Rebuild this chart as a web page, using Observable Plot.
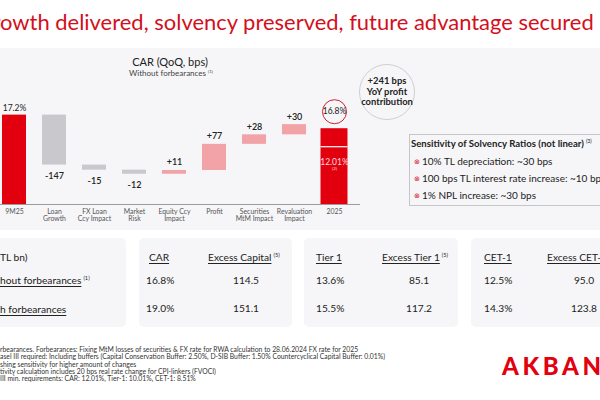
<!DOCTYPE html>
<html>
<head>
<meta charset="utf-8">
<script src="https://cdn.jsdelivr.net/npm/d3@7"></script>
<script src="https://cdn.jsdelivr.net/npm/@observablehq/plot@0.6"></script>
<style>
  html, body { margin: 0; padding: 0; width: 600px; height: 400px; overflow: hidden; background: #fff;
    font-family: "Lato", "Noto Sans", sans-serif; color: #222; }
  .abs { position: absolute; white-space: nowrap; }
  #headline { top: 8px; left: 0; font-size: 21.5px; color: #d3101c; }
  #panel { left: 0; top: 48px; width: 600px; height: 182px; background: #f6f6f8; }
  #chartTitle { top: 55px; left: 170px; transform: translateX(-50%); font-size: 11px; color: #222; }
  #chartSub { top: 68px; left: 171px; transform: translateX(-50%); font-size: 8px; color: #444; }
  sup { font-size: 0.55em; vertical-align: 0.7em; margin-left: 2px; }
  #chart { left: -30px; top: 100px; }
  #profitBubble { left: 359px; top: 64px; width: 56px; height: 56px; border-radius: 50%;
    border: 1px solid #cfcfd2; box-sizing: border-box; display: flex; align-items: center; justify-content: center;
    text-align: center; font-size: 9.4px; font-weight: 700; line-height: 10.5px; color: #222; }
  #sens { left: 409px; top: 134px; width: 210px; height: 72px; border: 1px solid #c6c6c8; box-sizing: border-box; }
  #sens .t { position: absolute; left: 1px; top: 3px; font-size: 9.6px; font-weight: 700; color: #222; }
  #sens .b { position: absolute; left: 4px; font-size: 10px; color: #222; }
  #sens .b i { font-style: normal; color: #d5101d; font-size: 7px; margin-right: 2px; vertical-align: 1px; }
  .box { position: absolute; top: 238px; height: 89px; background: #f6f6f8; border-radius: 5px; }
  .cell { position: absolute; font-size: 10.2px; color: #222; white-space: nowrap; }
  .u { text-decoration: underline; text-underline-offset: 2px; text-decoration-thickness: 0.8px; }
  .c { transform: translateX(-50%); }
  .foot { position: absolute; font-size: 6.8px; color: #333; white-space: nowrap; }
  #logo { left: 502px; top: 351px; font-size: 24px; font-weight: 900; color: #e3000f; letter-spacing: 3.6px; }
</style>
</head>
<body>
<div id="headline" class="abs cut"><span class="hid">Gr</span>owth delivered, solvency preserved, future advantage secured</div>
<div id="panel" class="abs"></div>
<div id="chartTitle" class="abs">CAR (QoQ, bps)</div>
<div id="chartSub" class="abs">Without forbearances<sup>(1)</sup></div>
<div id="chart" class="abs"></div>
<div id="profitBubble" class="abs"><div id="bubbleText"></div></div>
<div id="sens" class="abs"></div>
<div id="tables"></div>
<div id="footnotes"></div>
<div id="logo" class="abs">AKBANK</div>

<script>
// ---- Waterfall: CAR bridge, 9M25 -> 2025 (bps) ----
const stages = ["9M25", "Loan Growth", "FX Loan Ccy Impact", "Market Risk", "Equity Ccy Impact",
  "Profit", "Securities MtM Impact", "Revaluation Impact", "2025"];
const stageTicks = ["9M25", "Loan\nGrowth", "FX Loan\nCcy Impact", "Market\nRisk", "Equity Ccy\nImpact",
  "Profit", "Securities\nMtM Impact", "Revaluation\nImpact", "2025"];
const carStart = 17.2;   // %
const carEnd = 16.8;     // %
const deltasBps = [-147, -15, -12, 11, 77, 28, 30];
const minRequirement = "12.01%";
const axisFloor = 1457;  // truncated axis starts here (bps)
const axisCeil = 1763;
const requirementSplit = 1627; // divider drawn inside the 2025 bar

// Bubble and sensitivity panel
const bubbleLines = ["+241 bps", "YoY profit", "contribution"];
const sensTitle = "Sensitivity of Solvency Ratios (not linear)";
const sensItems = ["10% TL depreciation: ~30 bps", "100 bps TL interest rate increase: ~10 bps", "1% NPL increase: ~30 bps"];

// Ratio tables (TL bn)
const rowLabels = ["Without forbearances", "With forbearances"];
const carVals = ["16.8%", "19.0%"];
const excessCapital = ["114.5", "151.1"];
const tier1Vals = ["13.6%", "15.5%"];
const excessTier1 = ["85.1", "117.2"];
const cet1Vals = ["12.5%", "14.3%"];
const excessCet1 = ["95.0", "123.8"];

const footnotes = [
  ["(1) Without fo", "rbearances. Forbearances: Fixing MtM losses of securities & FX rate for RWA calculation to 28.06.2024 FX rate for 2025"],
  ["(2) B", "asel III required: Including buffers (Capital Conservation Buffer: 2.50%, D-SIB Buffer: 1.50% Countercyclical Capital Buffer: 0.01%)"],
  ["(3) Dimini", "shing sensitivity for higher amount of changes"],
  ["(4) Sensi", "tivity calculation includes 20 bps real rate change for CPI-linkers (FVOCI)"],
  ["(5) Over Basel ", "III min. requirements: CAR: 12.01%, Tier-1: 10.01%, CET-1: 8.51%"]
];

// Build waterfall rows
const rows = [];
let running = carStart * 100;
rows.push({stage: stages[0], tick: stageTicks[0], y1: axisFloor, y2: running, kind: "total", label: carStart.toFixed(1) + "%"});
deltasBps.forEach((d, i) => {
  rows.push({stage: stages[i + 1], tick: stageTicks[i + 1], y1: running, y2: running + d,
    kind: d < 0 ? "neg" : "pos", label: (d > 0 ? "+" : "") + d, delta: d});
  running += d;
});
rows.push({stage: stages[8], tick: stageTicks[8], y1: axisFloor, y2: carEnd * 100, kind: "end", label: carEnd.toFixed(1) + "%"});

const fills = {total: "#e2000f", end: "#e2000f", neg: "#c9c9cd", pos: "#f2a3a7"};
const deltas = rows.filter(d => d.kind === "neg" || d.kind === "pos");
const endRow = rows.filter(d => d.kind === "end");

const chart = Plot.plot({
  width: 410, height: 135,
  marginLeft: 17, marginRight: 20, marginTop: 0, marginBottom: 31,
  x: {domain: stages, paddingInner: 0.404, paddingOuter: 0.3, axis: null},
  y: {domain: [axisFloor, axisCeil], axis: null},
  style: {background: "transparent", fontFamily: "Lato, 'Noto Sans', sans-serif", overflow: "visible"},
  marks: [
    Plot.rectY(rows.filter(d => d.kind === "total" || d.kind === "neg" || d.kind === "pos"),
      {x: "stage", y1: "y1", y2: "y2", fill: d => fills[d.kind]}),
    Plot.rectY(endRow, {x: "stage", y1: "y1", y2: "y2", fill: d => fills[d.kind], insetLeft: -1.5, insetRight: -1.5}),
    Plot.tickY(endRow.map(d => ({stage: d.stage, v: requirementSplit})),
      {x: "stage", y: "v", stroke: "#ffffff", strokeWidth: 1.2, insetLeft: -1.5, insetRight: -1.5}),
    Plot.ruleY([axisFloor], {stroke: "#9c9c9f", strokeWidth: 1}),
    // value labels
    Plot.text(rows.filter(d => d.kind === "total"), {x: "stage", y: "y2", text: "label", dy: -7, fontSize: 8.5, fill: "#222"}),
    Plot.text(deltas.filter(d => d.kind === "neg"), {x: "stage", y: "y2", text: "label", dy: 11, fontSize: 9, fontWeight: 600, fill: "#222"}),
    Plot.text(deltas.filter(d => d.kind === "pos"), {x: "stage", y: "y2", text: "label", dy: -8, fontSize: 9, fontWeight: 600, fill: "#222"}),
    Plot.dot(endRow, {x: "stage", y: "y2", r: 12, dy: -17, stroke: "#d3202b", strokeWidth: 1, fill: "none"}),
    Plot.text(endRow, {x: "stage", y: "y2", text: "label", dy: -17, fontSize: 8.5, fill: "#222"}),
    Plot.text(endRow.map(d => ({stage: d.stage, v: requirementSplit, t: minRequirement})),
      {x: "stage", y: "v", text: "t", dy: 16, fontSize: 8.5, fill: "#ffd9d9"}),
    Plot.text(endRow.map(d => ({stage: d.stage, v: requirementSplit, t: "(2)"})),
      {x: "stage", y: "v", text: "t", dy: 22, fontSize: 4.5, fill: "#ffd9d9"}),
    // category labels under the baseline
    Plot.text(rows, {x: "stage", y: axisFloor, text: "tick", lineAnchor: "top", dy: 5, fontSize: 6.9, lineHeight: 1.0, fill: "#555"})
  ]
});
document.getElementById("chart").appendChild(chart);

// Bubble
document.getElementById("bubbleText").innerHTML = bubbleLines.join("<br>");

// Sensitivity panel
const sens = document.getElementById("sens");
sens.innerHTML = `<div class="t">${sensTitle}<sup style="font-weight:400">(3)</sup></div>` +
  sensItems.map((s, i) => `<div class="b" style="top:${20 + i * 17}px"><i>⊗</i>${s}</div>`).join("");

// Tables
const tables = document.getElementById("tables");
function box(left, width) {
  const b = document.createElement("div");
  b.className = "box"; b.style.left = left + "px"; b.style.width = width + "px";
  tables.appendChild(b);
}
function cell(html, left, top, cls = "") {
  const c = document.createElement("div");
  c.className = "cell " + cls; c.style.left = left + "px"; c.style.top = top + "px";
  c.innerHTML = html; tables.appendChild(c);
  return c;
}
box(-10, 136); box(139, 153); box(304, 154); box(471, 160);
const headTop = 251, rowTops = [274, 302];
// row labels (their left edge runs off the page)
cell('<span class="hid">Solvency (</span>TL bn)', 0, headTop, "cut");
rowLabels.forEach((r, i) => {
  cell(`<span class="u"><span class="hid">Wit</span>${r.slice(3)}</span>${i === 0 ? '<sup>(1)</sup>' : ''}`, 0, rowTops[i] + (i === 0 ? 0 : 1), "cut");
});
cell('<span class="u">CAR</span>', 149, headTop);
cell('<span class="u">Excess Capital</span><sup>(5)</sup>', 208, headTop);
cell('<span class="u">Tier 1</span>', 316, headTop);
cell('<span class="u">Excess Tier 1</span><sup>(5)</sup>', 382, headTop);
cell('<span class="u">CET-1</span>', 484, headTop);
cell('<span class="u">Excess CET-1</span><sup>(5)</sup>', 547, headTop);
[0, 1].forEach(i => {
  cell(carVals[i], 146, rowTops[i]);
  cell(excessCapital[i], 246, rowTops[i], "c");
  cell(tier1Vals[i], 316, rowTops[i]);
  cell(excessTier1[i], 419, rowTops[i], "c");
  cell(cet1Vals[i], 484, rowTops[i]);
  cell(excessCet1[i], 584, rowTops[i], "c");
});

// Footnotes
const fn = document.getElementById("footnotes");
footnotes.forEach(([pre, txt], i) => {
  const f = document.createElement("div");
  f.className = "foot cut";
  f.style.top = (345 + i * 7.3) + "px";
  f.innerHTML = `<span class="hid">${pre}</span>${txt}`;
  fn.appendChild(f);
});

// Headline spans to the right edge of the slide
const head = document.getElementById("headline");
const headHid = head.querySelector(".hid").getBoundingClientRect().width;
const headVis = head.getBoundingClientRect().width - headHid;
head.style.fontSize = (21.5 * 594 / headVis) + "px";

// Text whose beginning runs past the left page edge
document.querySelectorAll(".cut").forEach(el => {
  const h = el.querySelector(".hid");
  el.style.left = (-h.getBoundingClientRect().width) + "px";
});
</script>
</body>
</html>
